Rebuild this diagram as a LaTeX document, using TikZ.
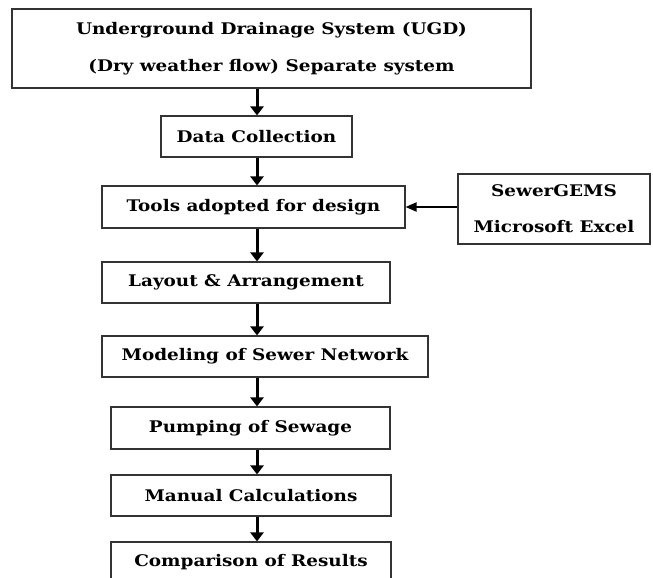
\documentclass[tikz,border=0pt]{standalone}
\usepackage{fontspec}
\newfontfamily\boxfont[FakeStretch=1.15]{DejaVu Serif}
\usetikzlibrary{arrows.meta}
\begin{document}
\begin{tikzpicture}[x=1pt,y=-1pt,
  box/.style={draw=black!80, line width=1.1pt, rectangle, inner sep=0pt, align=center,
    font=\boxfont\bfseries\fontsize{16}{37}\selectfont},
  flow/.style={-{Triangle[width=13pt,length=9pt]}, line width=3pt},
  side/.style={-{Triangle[width=9pt,length=11pt]}, line width=2pt}]
\clip (0,0) rectangle (653,578);
\fill[white] (0,0) rectangle (653,578);
\node[box, minimum width=519pt, minimum height=79pt] (ugd) at (271.5,48.5)
  {Underground Drainage System (UGD)\\(Dry weather flow) Separate system};
\node[box, minimum width=191pt, minimum height=41pt] (dc) at (256.5,136.5) {Data Collection};
\node[box, minimum width=303pt, minimum height=42pt] (tools) at (253.5,207) {Tools adopted for design};
\node[box, minimum width=192pt, minimum height=70pt, font=\boxfont\bfseries\fontsize{16}{36}\selectfont] (sg) at (554,209) {SewerGEMS\\Microsoft Excel};
\node[box, minimum width=288pt, minimum height=41pt] (lay) at (246,282.5) {Layout \& Arrangement};
\node[box, minimum width=326pt, minimum height=41pt] (mod) at (265,356.5) {Modeling of Sewer Network};
\node[box, minimum width=279pt, minimum height=42pt] (pump) at (250.5,428) {Pumping of Sewage};
\node[box, minimum width=280pt, minimum height=41pt] (man) at (251,495.5) {Manual Calculations};
\node[box, minimum width=280pt, minimum height=41pt] (comp) at (251,562.5) {Comparison of Results};
\coordinate (ax) at (257,0);
\draw[flow] (ugd.south -| ax) -- (dc.north -| ax);
\draw[flow] (dc.south -| ax) -- (tools.north -| ax);
\draw[flow] (tools.south -| ax) -- (lay.north -| ax);
\draw[flow] (lay.south -| ax) -- (mod.north -| ax);
\draw[flow] (mod.south -| ax) -- (pump.north -| ax);
\draw[flow] (pump.south -| ax) -- (man.north -| ax);
\draw[flow] (man.south -| ax) -- (comp.north -| ax);
\draw[side] (sg.west |- tools.east) -- (tools.east);
\end{tikzpicture}
\end{document}
